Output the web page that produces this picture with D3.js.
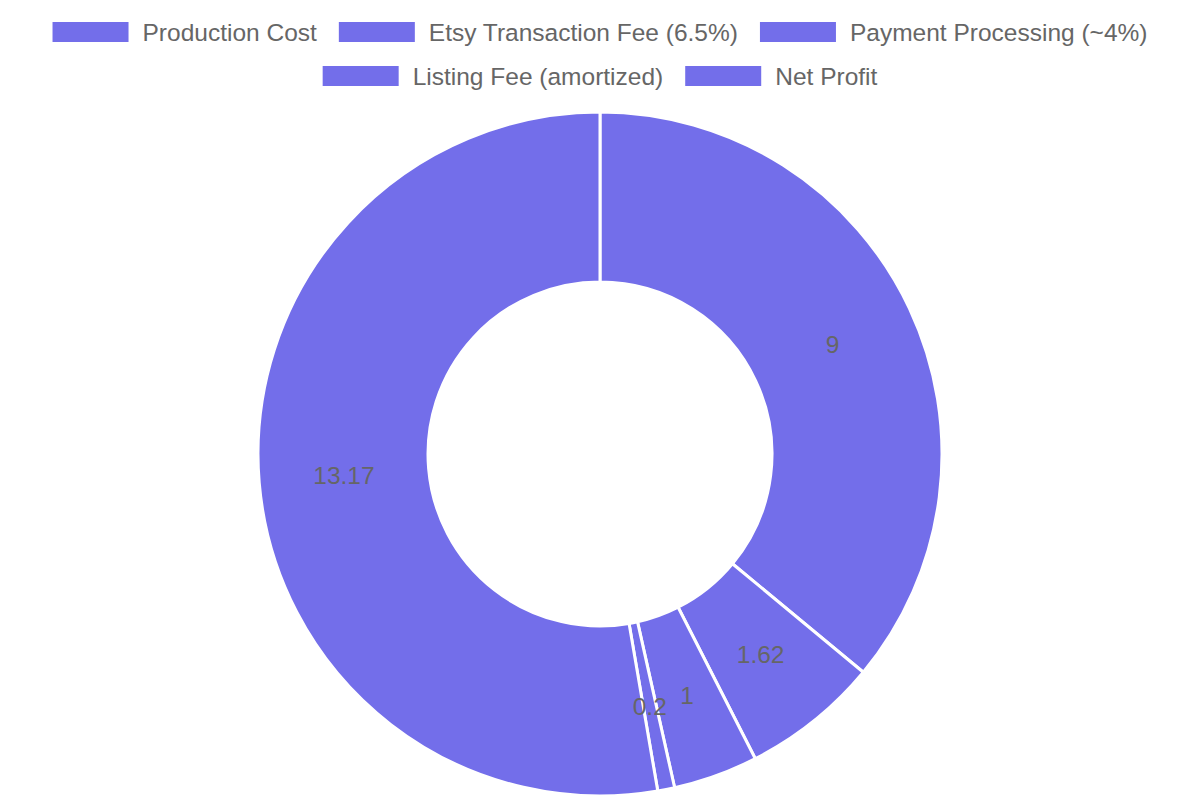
<!DOCTYPE html>
<html lang="en">
<head>
    <meta charset="UTF-8">
    <script src="https://d3js.org/d3.v7.min.js"></script>
    <title>Etsy Sale Breakdown</title>
    <style>
        body {
            margin: 0;
            background-color: #ffffff;
        }
        svg {
            display: block;
            font-family: "Liberation Sans", Arial, Helvetica, sans-serif;
        }
    </style>
</head>
<body>

    <svg id="chart" width="1200" height="800"></svg>

    <script>
        // data
        const categories = ["Production Cost", "Etsy Transaction Fee (6.5%)", "Payment Processing (~4%)", "Listing Fee (amortized)", "Net Profit"];
        const values = [9, 1.62, 1, 0.2, 13.17];
        const legendRows = [[0, 1, 2], [3, 4]];

        const sliceColor = "#736eea";
        const textColor = "#666666";
        const fontSize = 24.5;

        const svg = d3.select("#chart");
        const width = 1200;

        const cx = 600, cy = 454;
        const outerR = 342, innerR = 172;

        // legend
        const boxW = 76, boxH = 20, textGap = 14, itemGap = 22;
        const rowY = [32, 76];
        const legend = svg.append("g").attr("class", "legend");

        legendRows.forEach((row, ri) => {
            const g = legend.append("g");
            let x = 0;
            row.forEach((idx, k) => {
                const item = g.append("g").attr("transform", `translate(${x},0)`);
                item.append("rect")
                    .attr("x", 0)
                    .attr("y", rowY[ri] - boxH / 2)
                    .attr("width", boxW)
                    .attr("height", boxH)
                    .attr("fill", sliceColor);
                const t = item.append("text")
                    .attr("x", boxW + textGap)
                    .attr("y", rowY[ri])
                    .attr("dy", "0.35em")
                    .attr("fill", textColor)
                    .attr("font-size", fontSize)
                    .text(categories[idx]);
                x += boxW + textGap + t.node().getComputedTextLength() + itemGap;
            });
            const rowWidth = x - itemGap;
            g.attr("transform", `translate(${(width - rowWidth) / 2},0)`);
        });

        // doughnut
        const pie = d3.pie().sort(null).value(d => d);
        const arcs = pie(values);
        const arc = d3.arc().innerRadius(innerR).outerRadius(outerR);
        const labelArc = d3.arc().innerRadius((innerR + outerR) / 2).outerRadius((innerR + outerR) / 2);

        const chart = svg.append("g").attr("transform", `translate(${cx},${cy})`);

        chart.selectAll("path.slice")
            .data(arcs)
            .join("path")
            .attr("class", "slice")
            .attr("d", arc)
            .attr("fill", sliceColor)
            .attr("stroke", "#ffffff")
            .attr("stroke-width", 3)
            .attr("stroke-linejoin", "round");

        chart.selectAll("text.value")
            .data(arcs)
            .join("text")
            .attr("class", "value")
            .attr("transform", d => `translate(${labelArc.centroid(d)})`)
            .attr("text-anchor", "middle")
            .attr("dy", "0.35em")
            .attr("fill", textColor)
            .attr("font-size", fontSize)
            .text(d => d.data);
    </script>

</body>
</html>
